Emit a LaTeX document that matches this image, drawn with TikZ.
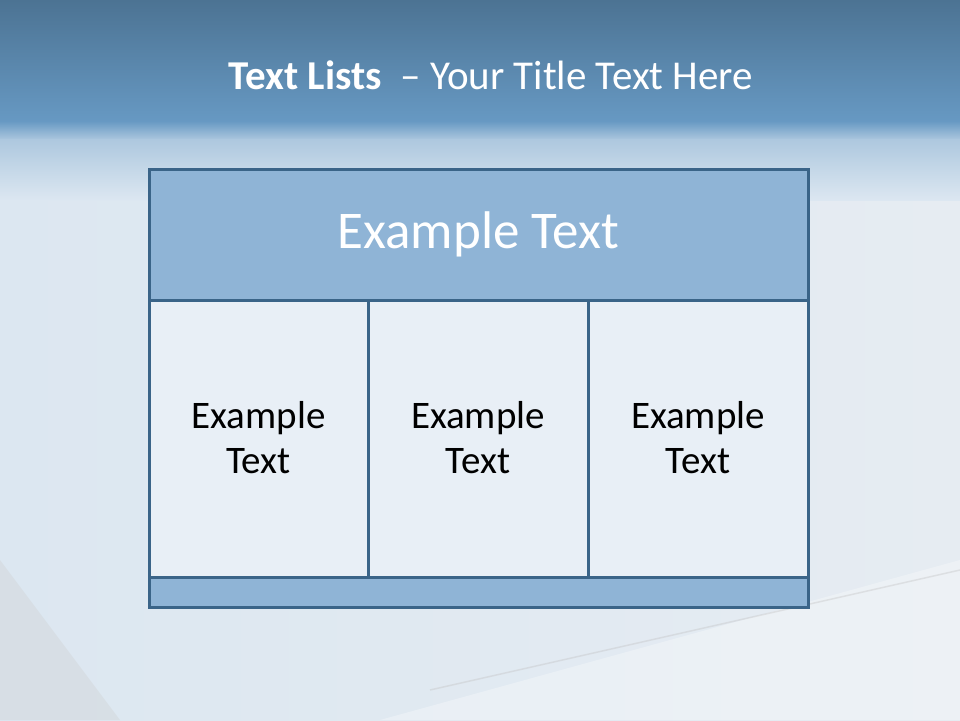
\documentclass[tikz,border=0pt]{standalone}
\usepackage{fontspec}
\setmainfont{Carlito}
\begin{document}
\begin{tikzpicture}[x=1pt,y=-1pt,
  frame/.style={draw=borderblue,line width=3pt},
  headfill/.style={fill=headblue},
  cellfill/.style={fill=cellpale},
  celltext/.style={text=black,font=\fontsize{39}{45}\selectfont,align=center},
  headtext/.style={text=white,font=\fontsize{53}{60}\selectfont}]
\definecolor{borderblue}{HTML}{3A6488}
\definecolor{headblue}{HTML}{8FB4D6}
\definecolor{cellpale}{HTML}{E8EFF6}
\definecolor{bgtop}{HTML}{4C7393}
\definecolor{bgband}{HTML}{6799C3}
\definecolor{bgpale}{HTML}{DCE7F1}
\definecolor{bgright}{HTML}{E6ECF2}
\useasboundingbox (0,0) rectangle (960,720);
% background
\shade[left color=bgpale,right color=bgright] (0,0) rectangle (960,720);
\shade[top color=bgtop,bottom color=bgband] (0,0) rectangle (960,122);
\shade[top color=bgband,bottom color=bgpale!60!bgband] (0,121) rectangle (960,140);
\shade[top color=bgpale!60!bgband,bottom color=bgpale] (0,139) rectangle (960,200);
\fill[gray!40,opacity=0.3] (0,560) -- (120,720) -- (0,720) -- cycle;
\fill[white,opacity=0.3] (380,720) -- (960,560) -- (960,720) -- cycle;
\draw[gray!50,opacity=0.35,line width=1.5pt] (430,690) -- (960,570);
% title
\node[text=white,font=\fontsize{41}{48}\selectfont,anchor=center] (title) at (491,75)
  {\textbf{Text Lists}\ \ – Your Title Text Here};
% boxes
\path[headfill,frame] (149,169) rectangle (808,300);
\path[cellfill,frame] (149,300) rectangle (368,577);
\path[cellfill,frame] (368,300) rectangle (588,577);
\path[cellfill,frame] (588,300) rectangle (808,577);
\path[headfill,frame] (149,577) rectangle (808,607);
\node[headtext] (head) at (478.5,234) {Example Text};
\node[celltext] (c1) at (258.5,438) {Example\\Text};
\node[celltext] (c2) at (478,438) {Example\\Text};
\node[celltext] (c3) at (698,438) {Example\\Text};
\end{tikzpicture}
\end{document}
